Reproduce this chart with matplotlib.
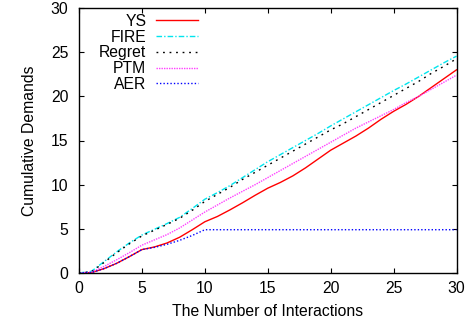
import matplotlib
matplotlib.use("Agg")
import matplotlib.pyplot as plt

plt.rcParams['font.family'] = ['Liberation Sans', 'DejaVu Sans']

x = list(range(0, 31))
ys = [0, 0.05, 0.5, 1.1, 1.85, 2.65, 2.95, 3.4, 4.05, 4.9, 5.8, 6.4, 7.15, 7.95, 8.8, 9.6,
      10.25, 11.0, 11.9, 12.9, 13.9, 14.7, 15.5, 16.4, 17.4, 18.3, 19.1, 20.0, 21.0, 22.0, 23.0]
fire = [0, 0.2, 1.3, 2.4, 3.4, 4.3, 4.95, 5.6, 6.3, 7.3, 8.35, 9.1, 9.9, 10.8, 11.7, 12.6,
        13.4, 14.2, 15.0, 15.8, 16.65, 17.45, 18.25, 19.05, 19.85, 20.65, 21.4, 22.2, 23.0, 23.8, 24.55]
regret = [0, 0.15, 1.2, 2.3, 3.3, 4.2, 4.85, 5.5, 6.2, 7.1, 8.1, 8.9, 9.7, 10.6, 11.4, 12.2,
          13.0, 13.8, 14.6, 15.4, 16.2, 16.9, 17.7, 18.5, 19.3, 20.1, 20.9, 21.7, 22.6, 23.4, 24.25]
ptm = [0, 0.1, 0.75, 1.5, 2.3, 3.15, 3.75, 4.35, 5.1, 6.0, 6.9, 7.7, 8.5, 9.25, 10.0, 10.8,
       11.6, 12.4, 13.2, 14.0, 14.8, 15.6, 16.4, 17.1, 17.8, 18.5, 19.3, 20.0, 20.8, 21.6, 22.4]
aer = [0, 0.05, 0.5, 1.1, 1.85, 2.65, 2.9, 3.25, 3.7, 4.25, 4.9, 4.9, 4.9, 4.9, 4.9, 4.9,
       4.9, 4.9, 4.9, 4.9, 4.9, 4.9, 4.9, 4.9, 4.9, 4.9, 4.9, 4.9, 4.9, 4.9, 4.9]

xticks = [0, 5, 10, 15, 20, 25, 30]
yticks = [0, 5, 10, 15, 20, 25, 30]

FS = 11.3

fig = plt.figure(figsize=(4.72, 3.25), dpi=100)
ax = fig.add_axes([79/472, 1-273/325, (456.5-79)/472, (273-8)/325])

ax.plot(x, ys, color='#ff0000', lw=1.0, ls='-', label='YS')
ax.plot(x, fire, color='#00e5ee', lw=1.0, ls=(0, (4, 1.5, 1, 1.5)), label='FIRE')
ax.plot(x, regret, color='#000000', lw=1.0, ls=(0, (1.3, 3.4)), label='Regret')
ax.plot(x, ptm, color='#ff40ff', lw=1.0, ls=(0, (1, 0.8)), label='PTM')
ax.plot(x, aer, color='#0000ff', lw=1.0, ls=(0, (1, 1.5)), label='AER')

ax.set_xlim(0, 30)
ax.set_ylim(0, 30)
ax.set_xticks(xticks)
ax.set_yticks(yticks)
ax.tick_params(direction='in', length=3.5, width=0.8, top=True, right=True,
               labelsize=FS, colors='black')
ax.tick_params(axis='x', pad=6.0)
ax.tick_params(axis='y', pad=7.5)
for s in ax.spines.values():
    s.set_linewidth(1.0)

ax.set_xlabel('The Number of Interactions', fontsize=FS, labelpad=5.5)
ax.set_ylabel('Cumulative Demands', fontsize=FS, labelpad=10)

leg = ax.legend(loc='upper right', bbox_to_anchor=((198-79)/377.5, 0.978),
                markerfirst=False, frameon=False, fontsize=FS,
                handlelength=2.7, handletextpad=0.6, labelspacing=0.05,
                borderpad=0, borderaxespad=0)

fig.savefig('out.png', dpi=100)
